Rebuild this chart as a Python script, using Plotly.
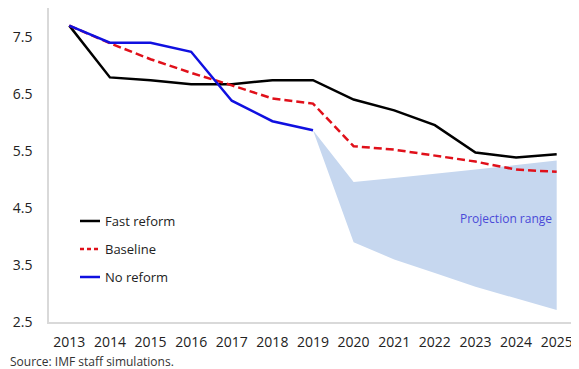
import plotly.graph_objects as go

years = list(range(2013, 2026))
fast_reform = [7.71, 6.80, 6.75, 6.68, 6.68, 6.75, 6.75, 6.41, 6.22, 5.96, 5.48, 5.39, 5.45]
baseline = [7.71, 7.40, 7.12, 6.88, 6.66, 6.43, 6.34, 5.59, 5.53, 5.43, 5.32, 5.18, 5.14]
no_reform_years = list(range(2013, 2020))
no_reform = [7.71, 7.41, 7.41, 7.25, 6.39, 6.03, 5.87]
proj_years = list(range(2019, 2026))
proj_upper = [5.87, 4.96, 5.03, 5.10, 5.18, 5.26, 5.34]
proj_lower = [5.87, 3.90, 3.60, 3.36, 3.12, 2.92, 2.71]
y_ticks = [2.5, 3.5, 4.5, 5.5, 6.5, 7.5]

series_names = ["Fast reform", "Baseline", "No reform"]
series_colors = ["#000000", "#e0101a", "#1010e0"]
series_dash = ["solid", "8px,4px", "solid"]

font_family = "Open Sans, Lato, sans-serif"

fig = go.Figure()
fig.add_trace(go.Scatter(x=proj_years + proj_years[::-1], y=proj_upper + proj_lower[::-1],
                         fill="toself", fillcolor="#c6d7ef", line=dict(width=0),
                         mode="lines", showlegend=False, hoverinfo="skip"))
for xs, ys, name, col, dash in zip([years, years, no_reform_years],
                                   [fast_reform, baseline, no_reform],
                                   series_names, series_colors, series_dash):
    fig.add_trace(go.Scatter(x=xs, y=ys, mode="lines", name=name, showlegend=False,
                             line=dict(color=col, width=2.5, dash=dash)))

# manual legend (short line samples like the original)
legend_y = [0.3217, 0.2325, 0.1433]
for name, col, dash, ly in zip(series_names, series_colors, series_dash, legend_y):
    fig.add_shape(type="line", xref="paper", yref="paper", x0=0.0587, x1=0.0966, y0=ly, y1=ly,
                  line=dict(color=col, width=2.5, dash="solid" if dash == "solid" else "4px,3px"))
    fig.add_annotation(xref="paper", yref="paper", x=0.102, y=ly, xanchor="left", yanchor="middle",
                       text=name, showarrow=False,
                       font=dict(family=font_family, size=13, color="#222222"))

fig.add_annotation(x=2023.74, y=4.32, text="Projection range", showarrow=False,
                   font=dict(family=font_family, size=12, color="#4a4ad8"))
fig.add_annotation(xref="paper", yref="paper", x=-41 / 528, y=-0.126, xanchor="left", yanchor="middle",
                   text="Source: IMF staff simulations.", showarrow=False,
                   font=dict(family=font_family, size=12, color="#333333"))

fig.update_layout(
    width=571, height=361,
    margin=dict(l=41, r=2, t=0, b=47, autoexpand=False),
    paper_bgcolor="white", plot_bgcolor="white",
    font=dict(family=font_family, size=14, color="#222222"),
    showlegend=False,
    xaxis=dict(range=[2012.5, 2025.5], tickmode="array", tickvals=years,
               ticktext=[str(y) for y in years], showgrid=False, zeroline=False,
               showline=True, linecolor="#d9d9d9", linewidth=1.5, mirror=True,
               ticks="", ticklabelstandoff=6, automargin=False),
    yaxis=dict(range=[2.5, 8.02], tickmode="array", tickvals=y_ticks,
               ticktext=[str(v) for v in y_ticks], showgrid=False, zeroline=False,
               showline=True, linecolor="#d9d9d9", linewidth=1.5, mirror=True,
               ticks="", ticklabelstandoff=12, automargin=False),
)

fig.write_html("out.html")
